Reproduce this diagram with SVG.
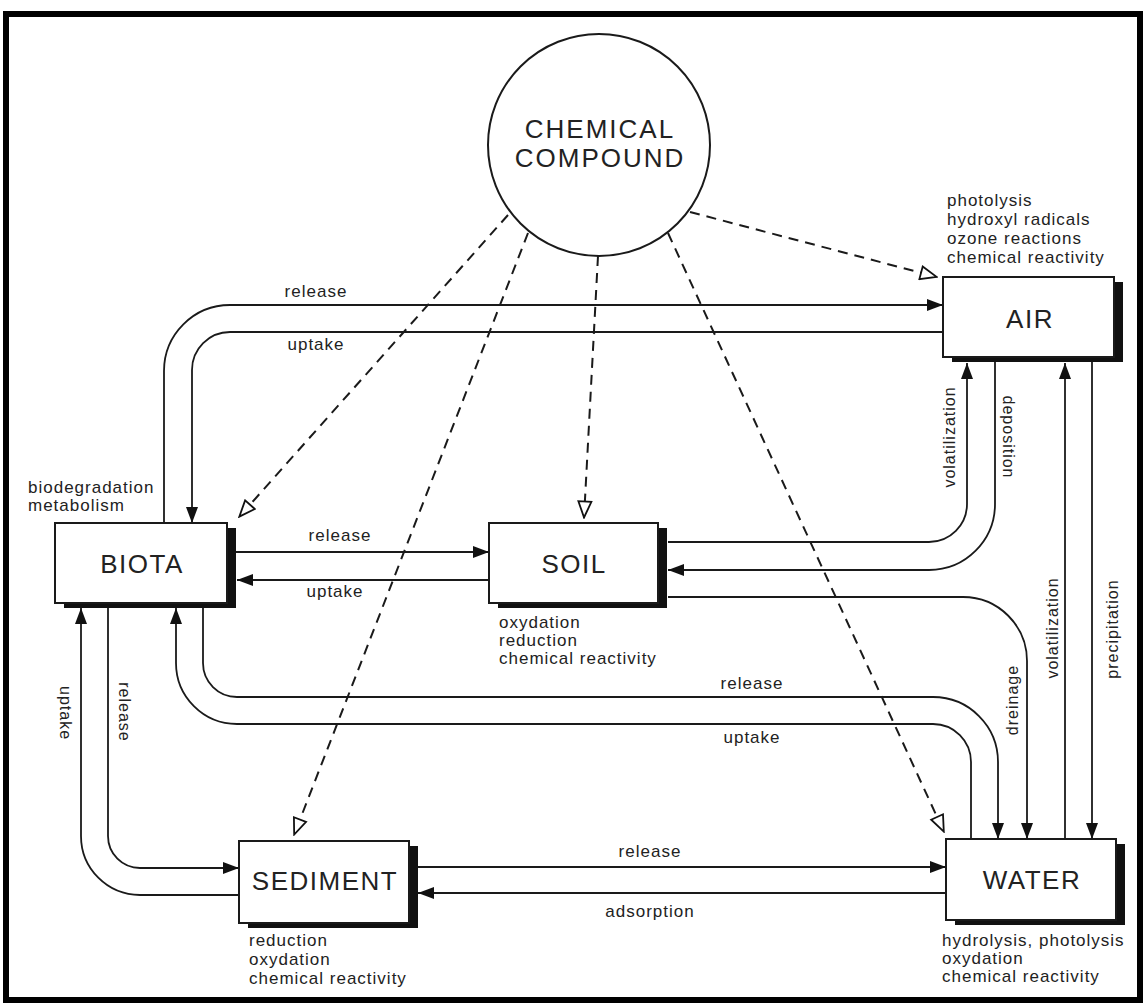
<svg xmlns="http://www.w3.org/2000/svg" width="1148" height="1007" viewBox="0 0 1148 1007">
<style>
.box{fill:#fff;stroke:#1a1a1a;stroke-width:2}
.sh{fill:#111}
.bt{font-family:"Liberation Sans",Arial,sans-serif;font-size:26px;letter-spacing:1.5px;fill:#222;text-anchor:middle}
.ct{font-family:"Liberation Sans",Arial,sans-serif;font-size:26px;letter-spacing:2px;fill:#222;text-anchor:middle}
.an{font-family:"Liberation Sans",Arial,sans-serif;font-size:17px;letter-spacing:1px;fill:#222}
.lb{font-family:"Liberation Sans",Arial,sans-serif;font-size:17px;letter-spacing:1px;fill:#222;text-anchor:middle}
.vl{font-family:"Liberation Sans",Arial,sans-serif;font-size:16px;letter-spacing:1px;fill:#222;text-anchor:middle}
.ln{fill:none;stroke:#1a1a1a;stroke-width:1.8}
.ds{fill:none;stroke:#1a1a1a;stroke-width:2;stroke-dasharray:10 7}
</style>
<defs>
<marker id="arr" viewBox="0 0 16 12" refX="16" refY="6" markerWidth="16" markerHeight="12" markerUnits="userSpaceOnUse" orient="auto"><path d="M0,0 L16,6 L0,12 z" fill="#111"/></marker>
<marker id="hol" viewBox="0 0 19 16" refX="18" refY="8" markerWidth="19" markerHeight="16" markerUnits="userSpaceOnUse" orient="auto"><path d="M1.5,1.5 L17.5,8 L1.5,14.5 z" fill="#fff" stroke="#111" stroke-width="1.8"/></marker>
</defs>
<rect x="0" y="0" width="1148" height="1007" fill="#fff"/>
<rect x="6" y="14" width="1134" height="986" fill="none" stroke="#000" stroke-width="6"/>

<g id="connectors">
<path class="ln" d="M164,523 V371 A66,66 0 0 1 230,305 H943" marker-end="url(#arr)"/>
<path class="ln" d="M943,332 H230 A38,38 0 0 0 192,370 V523" marker-end="url(#arr)"/>
<path class="ln" d="M236,552 H489" marker-end="url(#arr)"/>
<path class="ln" d="M489,580 H237" marker-end="url(#arr)"/>
<path class="ln" d="M668,542 H929 A38,38 0 0 0 967,504 V363" marker-end="url(#arr)"/>
<path class="ln" d="M995,357 V504 A66,66 0 0 1 929,570 H668" marker-end="url(#arr)"/>
<path class="ln" d="M668,597 H963 A64,64 0 0 1 1027,661 V839" marker-end="url(#arr)"/>
<path class="ln" d="M1065,839 V363" marker-end="url(#arr)"/>
<path class="ln" d="M1092,357 V839" marker-end="url(#arr)"/>
<path class="ln" d="M203,608 V663 A34,34 0 0 0 237,697 H933 A65,65 0 0 1 998,762 V839" marker-end="url(#arr)"/>
<path class="ln" d="M971,839 V762 A38,38 0 0 0 933,724 H237 A61,61 0 0 1 176,663 V608" marker-end="url(#arr)"/>
<path class="ln" d="M108,608 V836 A32,32 0 0 0 140,868 H239" marker-end="url(#arr)"/>
<path class="ln" d="M239,895 H140 A59,59 0 0 1 81,836 V608" marker-end="url(#arr)"/>
<path class="ln" d="M418,867 H946" marker-end="url(#arr)"/>
<path class="ln" d="M946,893 H418" marker-end="url(#arr)"/>
<path class="ds" d="M690,212 L937,277" marker-end="url(#hol)"/>
<path class="ds" d="M508,215 L239,517" marker-end="url(#hol)"/>
<path class="ds" d="M598,256 L584,518" marker-end="url(#hol)"/>
<path class="ds" d="M528,233 L294,835" marker-end="url(#hol)"/>
<path class="ds" d="M668,233 L944,832" marker-end="url(#hol)"/>
<text class="lb" x="316" y="297">release</text>
<text class="lb" x="316" y="350">uptake</text>
<text class="lb" x="340" y="541">release</text>
<text class="lb" x="335" y="597">uptake</text>
<text class="lb" x="752" y="689">release</text>
<text class="lb" x="752" y="743">uptake</text>
<text class="lb" x="650" y="857">release</text>
<text class="lb" x="650" y="917">adsorption</text>
<text class="vl" transform="translate(955,437) rotate(-90)">volatilization</text>
<text class="vl" transform="translate(1003,437) rotate(90)">deposition</text>
<text class="vl" transform="translate(1018,700) rotate(-90)">dreinage</text>
<text class="vl" transform="translate(1058,628) rotate(-90)">volatilization</text>
<text class="vl" transform="translate(1118,629) rotate(-90)">precipitation</text>
<text class="vl" transform="translate(60,713) rotate(90)">uptake</text>
<text class="vl" transform="translate(119,712) rotate(90)">release</text>
</g>

<g id="compound">
<circle cx="599" cy="145" r="111" fill="#fff" stroke="#1a1a1a" stroke-width="2"/>
<text class="ct" x="600" y="138">CHEMICAL</text>
<text class="ct" x="600" y="167">COMPOUND</text>
</g>

<g id="air">
<rect class="sh" x="952" y="282" width="171" height="80"/>
<rect class="box" x="943" y="277" width="171" height="80"/>
<text class="bt" x="1030" y="328">AIR</text>
<text class="an" x="947" y="206">photolysis</text>
<text class="an" x="947" y="225">hydroxyl radicals</text>
<text class="an" x="947" y="244">ozone reactions</text>
<text class="an" x="947" y="263">chemical reactivity</text>
</g>

<g id="biota">
<rect class="sh" x="64" y="528" width="172" height="80"/>
<rect class="box" x="55" y="523" width="172" height="80"/>
<text class="bt" x="142" y="573">BIOTA</text>
<text class="an" x="28" y="493">biodegradation</text>
<text class="an" x="28" y="511">metabolism</text>
</g>

<g id="soil">
<rect class="sh" x="498" y="528" width="169" height="80"/>
<rect class="box" x="489" y="523" width="169" height="80"/>
<text class="bt" x="574" y="573">SOIL</text>
<text class="an" x="499" y="628">oxydation</text>
<text class="an" x="499" y="646">reduction</text>
<text class="an" x="499" y="664">chemical reactivity</text>
</g>

<g id="sediment">
<rect class="sh" x="248" y="846" width="170" height="82"/>
<rect class="box" x="239" y="841" width="170" height="82"/>
<text class="bt" x="325" y="890">SEDIMENT</text>
<text class="an" x="249" y="946">reduction</text>
<text class="an" x="249" y="965">oxydation</text>
<text class="an" x="249" y="984">chemical reactivity</text>
</g>

<g id="water">
<rect class="sh" x="955" y="844" width="170" height="81"/>
<rect class="box" x="946" y="839" width="170" height="81"/>
<text class="bt" x="1032" y="889">WATER</text>
<text class="an" x="942" y="946">hydrolysis, photolysis</text>
<text class="an" x="942" y="964">oxydation</text>
<text class="an" x="942" y="982">chemical reactivity</text>
</g>
</svg>
